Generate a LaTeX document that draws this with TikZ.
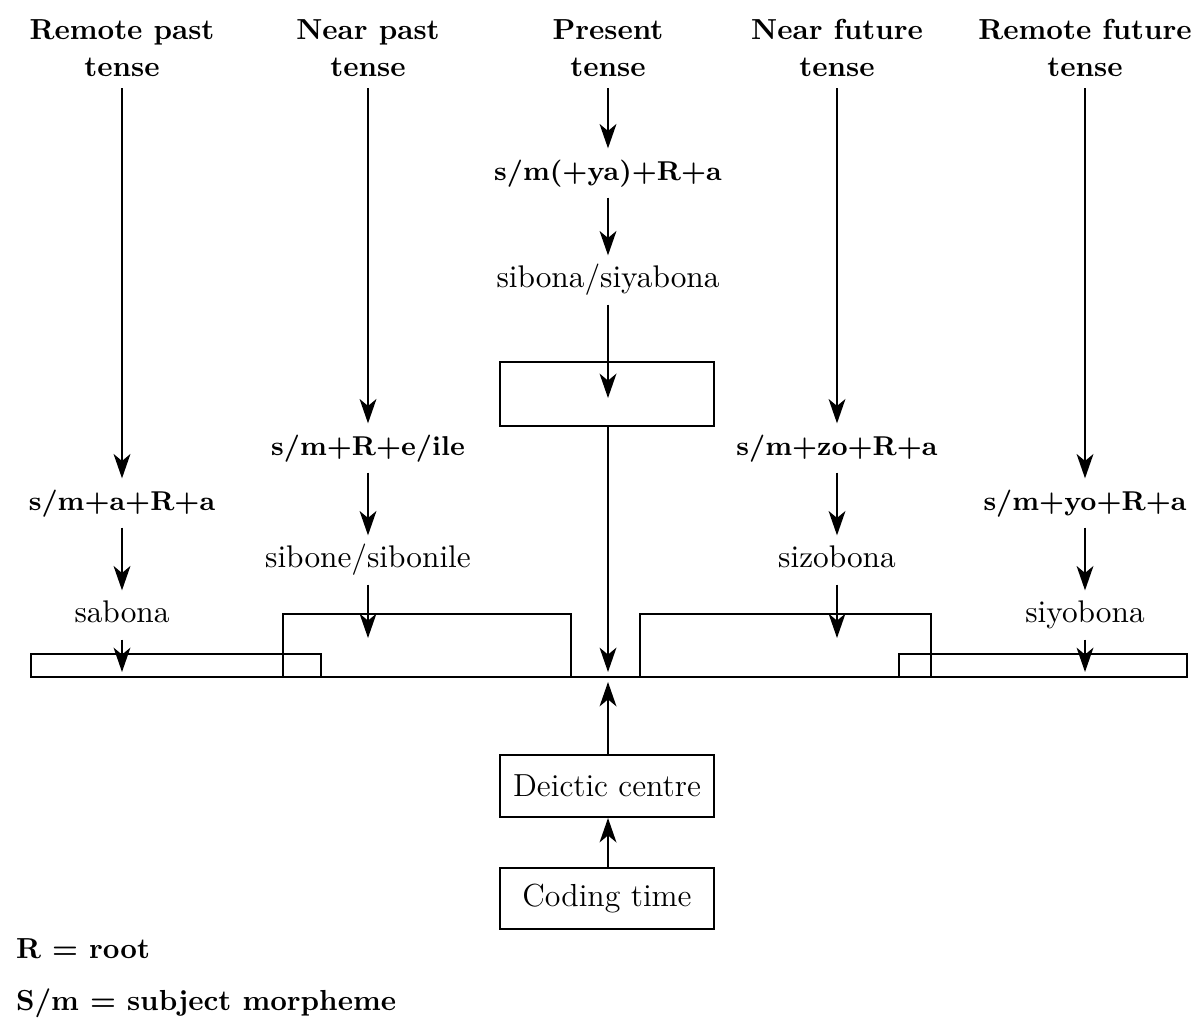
\documentclass[tikz,border=0pt]{standalone}
\usetikzlibrary{arrows.meta}
\begin{document}
\begin{tikzpicture}[x=0.345pt,y=-0.345pt,
  line width=0.7pt,
  arr/.style={-{Stealth[length=8.4pt,width=5.8pt,inset=2.4pt]}},
  hdr/.style={font=\bfseries, align=center, inner sep=0pt, outer sep=4pt},
  form/.style={font=\fontsize{9.4}{11}\selectfont\bfseries, inner sep=0pt, outer sep=4pt, text height=7pt, text depth=2pt},
  word/.style={font=\fontsize{10.8}{13}\selectfont, inner sep=0pt, outer sep=4pt, text height=7pt, text depth=2pt},
  cbox/.style={draw, minimum width=73.8pt, inner sep=0pt, font=\fontsize{11}{13}\selectfont},
  legend/.style={font=\bfseries, anchor=base west, inner sep=0pt}]
\useasboundingbox (0,0) rectangle (1194,1019);

% headers
\node[hdr] (h1) at (122,48) {Remote past\\[0.7pt]tense};
\node[hdr] (h2) at (368,48) {Near past\\[0.7pt]tense};
\node[hdr] (h3) at (608,48) {Present\\[0.7pt]tense};
\node[hdr] (h4) at (837,48) {Near future\\[0.7pt]tense};
\node[hdr] (h5) at (1085,48) {Remote future\\[0.7pt]tense};

% formulas
\node[form] (f1) at (122,503) {s/m+a+R+a};
\node[form] (f2) at (368,448) {s/m+R+e/ile};
\node[form] (f3) at (608,173) {s/m(+ya)+R+a};
\node[form] (f4) at (837,448) {s/m+zo+R+a};
\node[form] (f5) at (1085,503) {s/m+yo+R+a};

% words
\node[word] (w1) at (122,615) {sabona};
\node[word] (w2) at (368,560) {sibone/sibonile};
\node[word] (w3) at (608,280) {sibona/siyabona};
\node[word] (w4) at (837,560) {sizobona};
\node[word] (w5) at (1085,615) {siyobona};

% timeline boxes
\draw (31,654) rectangle (321,677);
\draw (283,614) rectangle (571,677);
\draw (640,614) rectangle (931,677);
\draw (899,654) rectangle (1187,677);
\draw (571,677) -- (640,677);

% centre boxes
\node[cbox, minimum height=22.1pt] (pb) at (607,394) {};
\node[cbox, minimum height=21.4pt] (dc) at (607,786) {Deictic centre};
\node[cbox, minimum height=21pt] (ct) at (607,898.5) {Coding time};

% tip coordinates
\coordinate (t1) at (122,672);
\coordinate (t2) at (368,638);
\coordinate (t3) at (608,398);
\coordinate (t4) at (837,638);
\coordinate (t5) at (1085,672);
\coordinate (tn) at (608,672);
\coordinate (tu) at (608,682);

% arrows
\draw[arr] (h1) -- (f1);
\draw[arr] (h2) -- (f2);
\draw[arr] (h3) -- (f3);
\draw[arr] (h4) -- (f4);
\draw[arr] (h5) -- (f5);
\draw[arr] (f1) -- (w1);
\draw[arr] (f2) -- (w2);
\draw[arr] (f3) -- (w3);
\draw[arr] (f4) -- (w4);
\draw[arr] (f5) -- (w5);
\draw[arr] (w1) -- (t1);
\draw[arr] (w2) -- (t2);
\draw[arr] (w3.south) -- (t3);
\draw[arr] (w4) -- (t4);
\draw[arr] (w5) -- (t5);
\draw[arr] (pb.south -| t3) -- (tn);
\draw[arr] (dc.north -| tu) -- (tu);
\draw[arr] (ct.north -| tu) -- (dc.south -| tu);

% legend
\node[legend] (l1) at (15,958) {R = root};
\node[legend] (l2) at (15,1010) {S/m = subject morpheme};
\end{tikzpicture}
\end{document}
